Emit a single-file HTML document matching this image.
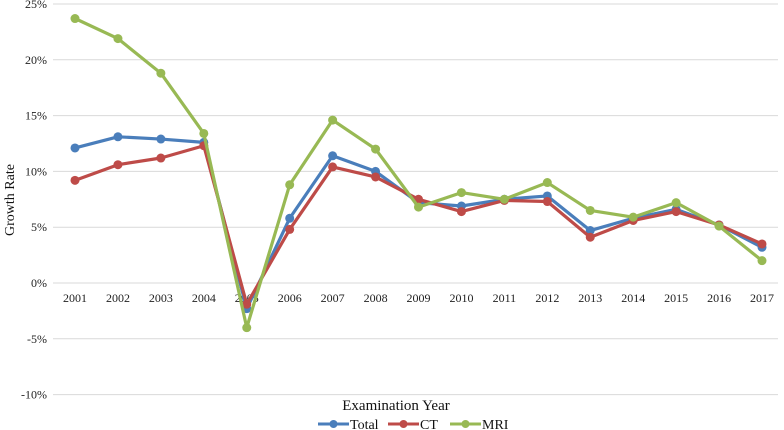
<!DOCTYPE html>
<html><head><meta charset="utf-8"><style>
body{margin:0;background:#fff}
svg{display:block;font-family:"Liberation Serif",serif}
</style></head><body>
<svg id="c" width="784" height="430"></svg>
<script>
const years=["2001","2002","2003","2004","2005","2006","2007","2008","2009","2010","2011","2012","2013","2014","2015","2016","2017"];
const totalVals=[12.1,13.1,12.9,12.6,-2.3,5.8,11.4,10.0,7.2,6.9,7.5,7.8,4.7,5.8,6.6,5.2,3.2];
const ctVals=[9.2,10.6,11.2,12.3,-1.9,4.8,10.4,9.5,7.5,6.4,7.4,7.3,4.1,5.6,6.4,5.2,3.5];
const mriVals=[23.7,21.9,18.8,13.4,-4.0,8.8,14.6,12.0,6.8,8.1,7.5,9.0,6.5,5.9,7.2,5.1,2.0];
const yTicks=[25,20,15,10,5,0,-5,-10];
const NS="http://www.w3.org/2000/svg";
const svg=document.getElementById('c');
function el(t,a,txt){const e=document.createElementNS(NS,t);for(const k in a)e.setAttribute(k,a[k]);if(txt!==undefined)e.textContent=txt;svg.appendChild(e);return e;}
const x0=75,step=(762-75)/16;
const X=i=>x0+i*step;
const Y=v=>283-v*(283-4)/25;
yTicks.forEach(t=>{
  const g=el('line',{x1:53,x2:778,y1:Y(t),y2:Y(t),stroke:'#d9d9d9','stroke-width':1});
  
  
  const l=el('text',{x:47,y:Y(t)+4,'text-anchor':'end','font-size':12,fill:'#222'},t+'%');
  
  
});
years.forEach((yr,i)=>{
  const l=el('text',{x:X(i),y:302,'text-anchor':'middle','font-size':12,fill:'#222'},yr);
  
  
});
const series=[["total",totalVals,"#4a7ebb"],["ct",ctVals,"#be4b48"],["mri",mriVals,"#98b954"]];
series.forEach(([n,vals,c])=>{
  const p=el('polyline',{points:vals.map((v,i)=>X(i)+','+Y(v)).join(' '),fill:'none',stroke:c,'stroke-width':3.2,'stroke-linejoin':'round'});
  
  
  vals.forEach((v,i)=>{
    const d=el('circle',{cx:X(i),cy:Y(v),r:4.5,fill:c});
    
    
  });
});
const xt=el('text',{x:396,y:410,'text-anchor':'middle','font-size':15,fill:'#111'},'Examination Year');


const yt=el('text',{x:0,y:0,'text-anchor':'middle','font-size':14,fill:'#111',transform:'translate(14,200) rotate(-90)'},'Growth Rate');


const leg=[["Total",318,"#4a7ebb"],["CT",388,"#be4b48"],["MRI",450,"#98b954"]];
leg.forEach(([t,x,c])=>{
  const l=el('line',{x1:x,x2:x+31,y1:424,y2:424,stroke:c,'stroke-width':3});
  
  
  const d=el('circle',{cx:x+15.5,cy:424,r:4,fill:c});
  
  
  const tx=el('text',{x:x+32,y:429,'font-size':14,fill:'#111'},t);
  
  
});
</script>
</body></html>
